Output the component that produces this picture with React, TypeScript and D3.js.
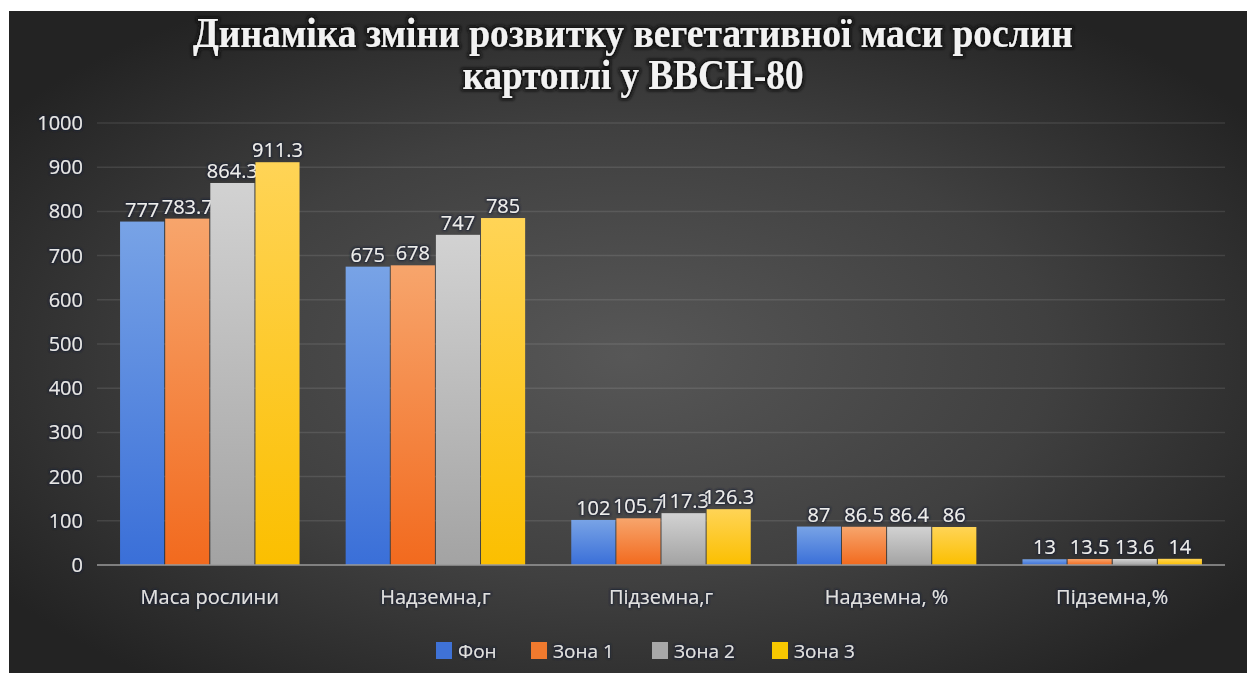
import React from "react";
import * as d3 from "d3";

const categories = ["Маса рослини", "Надземна,г", "Підземна,г", "Надземна, %", "Підземна,%"];
const seriesNames = ["Фон", "Зона 1", "Зона 2", "Зона 3"];
const fon = [777, 675, 102, 87, 13];
const zona1 = [783.7, 678, 105.7, 86.5, 13.5];
const zona2 = [864.3, 747, 117.3, 86.4, 13.6];
const zona3 = [911.3, 785, 126.3, 86, 14];
const seriesValues = [fon, zona1, zona2, zona3];
const yTicks = [0, 100, 200, 300, 400, 500, 600, 700, 800, 900, 1000];
const titleLines = ["Динаміка зміни розвитку вегетативної маси рослин", "картоплі у ВВСН-80"];

const colorsTop = ["#78a3e6", "#f7a56c", "#d2d2d2", "#ffd456"];
const colorsBottom = ["#3a6fd8", "#f26a1e", "#a3a3a3", "#fbbf00"];
const legendColors = ["#3f72d6", "#f07a2e", "#a8a8a8", "#f8c800"];

const W = 1247;
const H = 683;
const plot = { left: 97, right: 1225, top: 123, bottom: 565 };

export default function App() {
  const x = d3.scaleBand<string>().domain(categories).range([plot.left, plot.right]).paddingInner(0.2).paddingOuter(0.1);
  const x1 = d3.scaleBand<string>().domain(seriesNames).range([0, x.bandwidth()]).padding(0);
  const y = d3.scaleLinear().domain([0, 1000]).range([plot.bottom, plot.top]);
  const fmt = (v: number) => String(v);
  const labelFont = "'Open Sans', 'Noto Sans', sans-serif";
  const legendX = [436, 531, 652, 772];

  return (
    <svg width={W} height={H} style={{ position: "absolute", left: 0, top: 0, display: "block" }}>
      <defs>
        <radialGradient id="bg" cx="50%" cy="52%" r="62%">
          <stop offset="0%" stopColor="#575757" />
          <stop offset="55%" stopColor="#404040" />
          <stop offset="100%" stopColor="#232323" />
        </radialGradient>
        {seriesNames.map((s, i) => (
          <linearGradient key={s} id={`g${i}`} x1="0" y1="0" x2="0" y2="1">
            <stop offset="0%" stopColor={colorsTop[i]} />
            <stop offset="100%" stopColor={colorsBottom[i]} />
          </linearGradient>
        ))}
        <filter id="glow" x="-5%" y="-30%" width="110%" height="160%">
          <feMorphology in="SourceAlpha" operator="dilate" radius="1.5" result="d" />
          <feGaussianBlur in="d" stdDeviation="1.5" result="b" />
          <feFlood floodColor="#111" floodOpacity="0.9" />
          <feComposite in2="b" operator="in" result="s" />
          <feMerge>
            <feMergeNode in="s" />
            <feMergeNode in="SourceGraphic" />
          </feMerge>
        </filter>
        <filter id="lglow" x="-10%" y="-30%" width="120%" height="160%">
          <feMorphology in="SourceAlpha" operator="dilate" radius="1" result="d" />
          <feGaussianBlur in="d" stdDeviation="1" result="b" />
          <feFlood floodColor="#1a1f33" floodOpacity="0.85" />
          <feComposite in2="b" operator="in" result="s" />
          <feMerge>
            <feMergeNode in="s" />
            <feMergeNode in="SourceGraphic" />
          </feMerge>
        </filter>
      </defs>
      <rect x={0} y={0} width={W} height={H} fill="#ffffff" />
      <rect x={9} y={11} width={W - 9} height={662} fill="url(#bg)" />

      {titleLines.map((t, i) => (
        <text
          key={t}
          x={633}
          y={i === 0 ? 47 : 89}
          textAnchor="middle"
          fontFamily="'Liberation Serif', 'DejaVu Serif', serif"
          fontWeight="bold"
          fontSize={42}
          fill="#f2f2f2"
          textLength={i === 0 ? 880 : 341}
          lengthAdjust="spacingAndGlyphs"
          filter="url(#glow)"
        >
          {t}
        </text>
      ))}

      {yTicks.map((t) => (
        <g key={t}>
          {t > 0 && (
            <line x1={plot.left} x2={plot.right} y1={y(t)} y2={y(t)} stroke="#ffffff" strokeOpacity={0.1} strokeWidth={1.5} />
          )}
          <text
            x={83}
            y={y(t)}
            dy="0.35em"
            textAnchor="end"
            fontFamily={labelFont}
            fontSize={20}
            fill="#e6e6e6"
            filter="url(#lglow)"
          >
            {t}
          </text>
        </g>
      ))}

      {categories.map((c, ci) => (
        <g key={c}>
          {seriesValues.map((vals, si) => {
            const bx = (x(c) as number) + (x1(seriesNames[si]) as number);
            const bw = x1.bandwidth();
            const v = vals[ci];
            return (
              <g key={si}>
                <rect x={bx + 0.5} y={y(v)} width={bw - 1} height={y(0) - y(v)} fill={`url(#g${si})`} />
                <text
                  x={bx + bw / 2}
                  y={y(v) - 5}
                  textAnchor="middle"
                  fontFamily={labelFont}
                  fontSize={20}
                  fill="#ececec"
                  filter="url(#lglow)"
                >
                  {fmt(v)}
                </text>
              </g>
            );
          })}
          <text
            x={(x(c) as number) + x.bandwidth() / 2}
            y={604}
            textAnchor="middle"
            fontFamily={labelFont}
            fontSize={20}
            fill="#e0e0e0"
            filter="url(#lglow)"
          >
            {c}
          </text>
        </g>
      ))}

      <line x1={plot.left} x2={plot.right} y1={y(0)} y2={y(0)} stroke="#9a9a9a" strokeWidth={1.5} />

      {seriesNames.map((s, i) => (
        <g key={s}>
          <rect x={legendX[i]} y={642} width={16} height={17} fill={legendColors[i]} />
          <text
            x={legendX[i] + 22}
            y={651}
            dy="0.35em"
            fontFamily={labelFont}
            fontSize={19}
            fill="#e0e0e0"
            filter="url(#lglow)"
          >
            {s}
          </text>
        </g>
      ))}
    </svg>
  );
}
